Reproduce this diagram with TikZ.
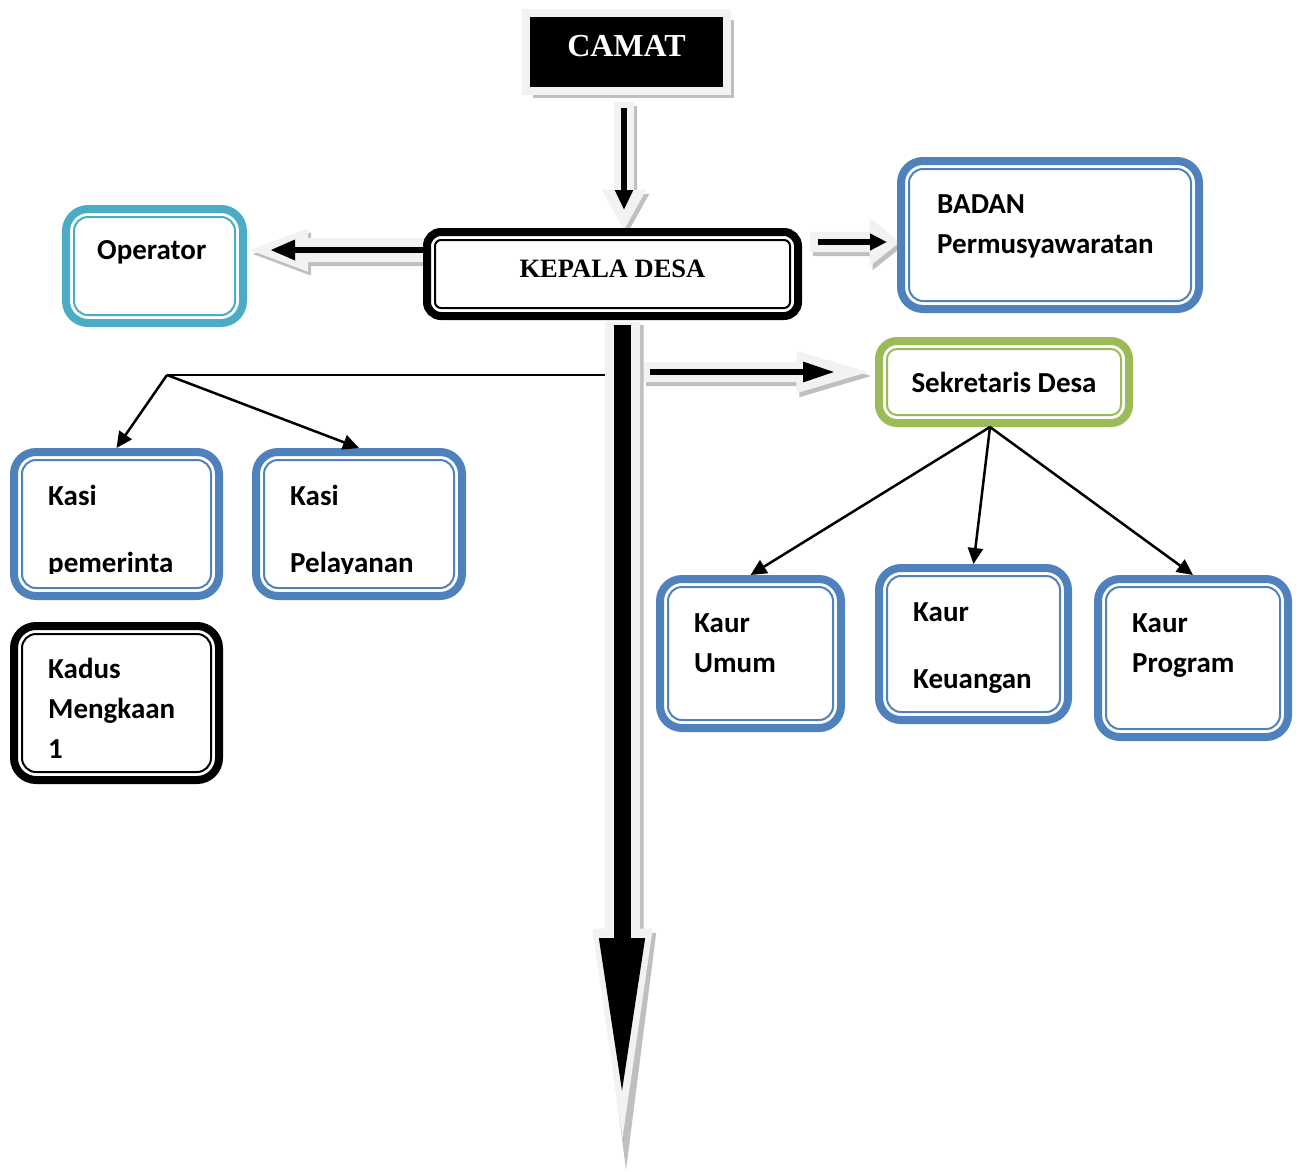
\documentclass[tikz,border=0pt]{standalone}
\usepackage{fontspec}
\setmainfont{Carlito}
\newfontfamily\titlefont{Liberation Serif}
\usepackage{xcolor}
\usepackage{tikz}
\usetikzlibrary{arrows.meta, positioning, calc, shapes.arrows, shadows}

\definecolor{boxblue}{HTML}{4F81BD}
\definecolor{boxcyan}{HTML}{4BACC6}
\definecolor{boxgreen}{HTML}{9BBB59}
\definecolor{arrowlight}{HTML}{F2F2F2}
\definecolor{arrowshade}{HTML}{BFBFBF}

\begin{document}
\begin{tikzpicture}[x=1pt, y=-1pt,
    box/.style n args={3}{rectangle, draw=#1, fill=white, line width=8pt, rounded corners=#2,
        outer sep=4pt, inner sep=0pt,
        path picture={\draw[#1, line width=2pt, rounded corners=#3]
            ($(path picture bounding box.south west)+(8pt,8pt)$) rectangle ($(path picture bounding box.north east)-(8pt,8pt)$);}},
    txt/.style={anchor=base west, align=left, inner sep=0pt, font=\bfseries\fontsize{29pt}{40pt}\selectfont},
    blockarrow/.style={single arrow, fill=arrowlight, draw=none, inner xsep=0pt, outer sep=0pt, anchor=tail,
        drop shadow={shadow xshift=3pt, shadow yshift=-4pt, fill=arrowshade, opacity=1}},
    thinarrow/.style={line width=2.5pt, -{Triangle[length=16pt,width=15pt]}}]

    \useasboundingbox (0,0) rectangle (1302,1171);

    % grey block arrows behind the boxes
    \node[blockarrow, rotate=-90, minimum height=128pt, minimum width=44pt, inner ysep=10pt,
        single arrow head extend=12pt, single arrow tip angle=58] (camatarrow) at (624,102) {};
    \node[blockarrow, rotate=180, minimum height=175pt, minimum width=43pt, inner ysep=12pt,
        single arrow head extend=9.5pt, single arrow tip angle=41] (oparrow) at (425,250) {};
    \node[blockarrow, minimum height=90pt, minimum width=48pt, inner ysep=10pt,
        single arrow head extend=14pt, single arrow tip angle=77] (bpdarrow) at (810,242) {};
    \node[blockarrow, minimum height=225pt, minimum width=42pt, inner ysep=10pt,
        single arrow head extend=11pt, single arrow tip angle=33] (sekarrow) at (643,372) {};
    \node[single arrow, fill=arrowshade, inner xsep=0pt, inner ysep=17.5pt, rotate=-90, anchor=tail,
        minimum height=845pt, minimum width=60pt,
        single arrow head extend=12.5pt, single arrow tip angle=14.5] (mainshadow) at (626,325) {};
    \node[single arrow, fill=arrowlight, inner xsep=0pt, inner ysep=17.5pt, rotate=-90, anchor=tail,
        minimum height=816pt, minimum width=60pt,
        single arrow head extend=12.5pt, single arrow tip angle=16.4] (mainarrow) at (622.5,322) {};

    % boxes
    \node[fill=black, draw=arrowlight, line width=8pt, minimum width=201pt, minimum height=78pt,
        text=white, font=\titlefont\bfseries\fontsize{32pt}{38pt}\selectfont, text depth=12pt,
        drop shadow={shadow xshift=7pt, shadow yshift=-7pt, fill=arrowshade, opacity=1}] (camat) at (626.5,52) {CAMAT};
    \node[box={black}{14pt}{6pt}, minimum width=371pt, minimum height=84pt,
        font=\titlefont\bfseries\fontsize{26.5pt}{30pt}\selectfont, text depth=10pt] (kades) at (612.5,274) {KEPALA DESA};
    \node[box={boxcyan}{22pt}{14pt}, minimum width=177pt, minimum height=114pt] (op) at (154.5,266) {};
    \node[box={boxblue}{22pt}{14pt}, minimum width=298pt, minimum height=148pt] (bpd) at (1050,235) {};
    \node[box={boxgreen}{18pt}{10pt}, minimum width=250pt, minimum height=82pt,
        font=\bfseries\fontsize{29pt}{35pt}\selectfont] (sekdes) at (1004,382) {Sekretaris Desa};
    \node[box={boxblue}{22pt}{14pt}, minimum width=205pt, minimum height=144pt] (kasipem) at (116.5,524) {};
    \node[box={boxblue}{22pt}{14pt}, minimum width=206pt, minimum height=144pt] (kasipel) at (359,524) {};
    \node[box={black}{22pt}{14pt}, minimum width=205pt, minimum height=154pt] (kadus) at (116.5,703) {};
    \node[box={boxblue}{22pt}{14pt}, minimum width=181pt, minimum height=149pt] (kaurumum) at (750.5,653.5) {};
    \node[box={boxblue}{22pt}{14pt}, minimum width=189pt, minimum height=152pt] (kaurkeu) at (973.5,644) {};
    \node[box={boxblue}{22pt}{14pt}, minimum width=190pt, minimum height=158pt] (kaurprog) at (1193,658) {};

    % texts (anchored on the baseline of the last line)
    \node[txt] (optxt) at (97,259) {Operator};
    \node[txt] (bpdtxt) at (937,253) {BADAN\\Permusyawaratan};
    \begin{scope}
        \clip (0,0) rectangle (1302,573);
        \node[txt] (kasipemtxt) at (48,572) {Kasi\\[27pt]pemerinta};
        \node[txt] (kasipeltxt) at (290,572) {Kasi\\[27pt]Pelayanan};
    \end{scope}
    \node[txt] (kadustxt) at (48,758) {Kadus\\Mengkaan\\1};
    \node[txt] (kaurumumtxt) at (694,672) {Kaur\\Umum};
    \node[txt] (kaurkeutxt) at (913,688) {Kaur\\[27pt]Keuangan};
    \node[txt] (kaurprogtxt) at (1132,672) {Kaur\\Program};

    % black arrows
    \coordinate (camatout) at (624,108);
    \coordinate (kadesin) at (624,210);
    \coordinate (opin) at (270,250);
    \coordinate (kadesright) at (818,242);
    \coordinate (bpdin) at (887,242);
    \coordinate (sekstart) at (650,372);
    \coordinate (sekin) at (835,372);
    \coordinate (mainstart) at (622,325);
    \coordinate (mainend) at (622,1103);
    \coordinate (kasifork) at (167,375);
    \coordinate (kasiline) at (605,375);
    \coordinate (sekfork) at (990,427);

    \draw[line width=6pt, -{Triangle[length=20pt,width=17pt]}] (camatout) -- (kadesin);
    \draw[line width=6pt, -{Triangle[length=25pt,width=19pt]}] (kades.west |- opin) -- (opin);
    \draw[line width=6pt, -{Triangle[length=17pt,width=16pt]}] (kadesright) -- (bpdin);
    \draw[line width=6pt, -{Triangle[length=32pt,width=19pt]}] (sekstart) -- (sekin);
    \draw[line width=17pt, -{Triangle[length=165pt,width=41pt]}] (mainstart) -- (mainend);

    \draw[line width=1.8pt] (kasiline) -- (kasifork);
    \draw[thinarrow] (kasifork) -- (kasipem.north);
    \draw[thinarrow] (kasifork) -- (kasipel.north);
    \draw[thinarrow] (sekfork) -- (kaurumum.north);
    \draw[thinarrow] (sekfork) -- (kaurkeu.north);
    \draw[thinarrow] (sekfork) -- (kaurprog.north);
\end{tikzpicture}
\end{document}
